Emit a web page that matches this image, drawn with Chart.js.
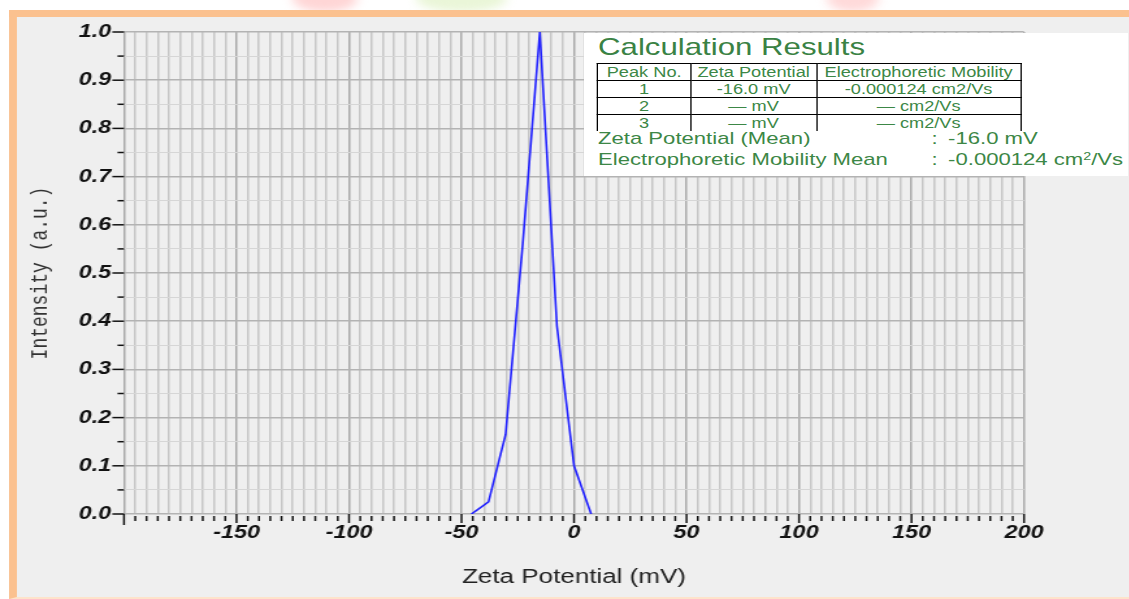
<!DOCTYPE html>
<html>
<head>
<meta charset="utf-8">
<title>Zeta Potential</title>
<script src="https://cdn.jsdelivr.net/npm/chart.js@4.4.0/dist/chart.umd.min.js"></script>
<style>
  html, body { margin: 0; padding: 0; }
  body { width: 1129px; height: 599px; overflow: hidden; background: #fff; position: relative;
         font-family: "Liberation Sans", Arial, sans-serif; }
  /* the source picture is stretched sideways, so the whole sheet is scaled on x */
  #sheet { position: absolute; left: 0; top: 0; width: 869px; height: 599px;
           transform: scaleX(1.3); transform-origin: 0 0; }
  .wm { position: absolute; top: -14px; height: 26px; border-radius: 50%; filter: blur(4px); }
  #frame { position: absolute; left: 7px; top: 10px; width: 862px; height: 589px; box-sizing: border-box;
           background: #efefef; border-left: 6px solid #fbc18f; border-top: 7px solid #fbc18f;
           border-bottom: 2px solid #fde3cb; }
  #chart { position: absolute; left: 0; top: 0; }
  #results { position: absolute; left: 448.5px; top: 33px; width: 418px; height: 143px;
             background: #fff; color: #3c8746; }
  #results .title { position: absolute; left: 11.5px; top: 2px; font-size: 24px; line-height: 24px;
                    white-space: nowrap; color: #3a8244; }
  #results table { position: absolute; left: 10.7px; top: 30px; border-collapse: collapse;
                   table-layout: fixed; font-size: 14px; }
  #results td { border: 1.5px solid #000; padding: 0; height: 16px; line-height: 16px;
                text-align: center; white-space: nowrap; overflow: hidden; }
  #results tr.last td { border-bottom: none; height: 14px; line-height: 16px; vertical-align: top; }
  #results .row { position: absolute; left: 11.5px; font-size: 17px; line-height: 20px; white-space: nowrap; }
  #results .colon { position: absolute; left: 268px; font-size: 17px; line-height: 20px; }
  #results .val { position: absolute; left: 280.8px; font-size: 17px; line-height: 20px; white-space: nowrap; }
  sup.s { font-size: 11px; vertical-align: 5px; line-height: 0; }
</style>
</head>
<body>
<div id="sheet">
  <div class="wm" style="left:225px;width:50px;background:#ffd6d6;"></div>
  <div class="wm" style="left:320px;width:70px;background:#eaf6d8;"></div>
  <div class="wm" style="left:636px;width:40px;background:#ffdada;"></div>
  <div id="frame"></div>
  <canvas id="chart" width="869" height="599"></canvas>
  <div id="results">
    <div class="title">Calculation Results</div>
    <table>
      <colgroup><col style="width:71.6px"><col style="width:96.9px"><col style="width:156.9px"></colgroup>
      <tr><td>Peak No.</td><td>Zeta Potential</td><td>Electrophoretic Mobility</td></tr>
      <tr><td>1</td><td>-16.0 mV</td><td>-0.000124 cm2/Vs</td></tr>
      <tr><td>2</td><td>— mV</td><td>— cm2/Vs</td></tr>
      <tr class="last"><td>3</td><td>— mV</td><td>— cm2/Vs</td></tr>
    </table>
    <div class="row" style="top:96px">Zeta Potential (Mean)</div>
    <div class="colon" style="top:96px">:</div>
    <div class="val" style="top:96px">-16.0 mV</div>
    <div class="row" style="top:117px">Electrophoretic Mobility Mean</div>
    <div class="colon" style="top:117px">:</div>
    <div class="val" style="top:117px">-0.000124 cm<sup class="s">2</sup>/Vs</div>
  </div>
</div>
<script>
// measured curve (mV, a.u.)
const zetaMv = [-45.6, -38.0, -30.4, -22.8, -15.2, -7.6, 0.0, 7.6];
const intensity = [0.0, 0.025, 0.165, 0.56, 1.0, 0.39, 0.10, 0.0];

const xMin = -200, xMax = 200, xStep = 5;
const xTickLabels = [-150, -100, -50, 0, 50, 100, 150, 200];
const yMin = 0, yMax = 1, yStep = 0.05;
const yTickLabels = ['0.0', '0.1', '0.2', '0.3', '0.4', '0.5', '0.6', '0.7', '0.8', '0.9', '1.0'];

const points = zetaMv.map((v, i) => ({ x: v, y: intensity[i] }));

const tickFont = { family: 'Liberation Sans', size: 18, weight: 'bold', style: 'italic' };

function stepTicks(min, max, step) {
  let out = [];
  let n = Math.round((max - min) / step);
  for (let i = 0; i <= n; i++) out.push({ value: +(min + i * step).toFixed(4) });
  return out;
}

// small / long tick marks outside the plot
const tickMarks = {
  id: 'tickMarks',
  afterDraw(chart) {
    const c = chart.ctx, xs = chart.scales.x, ys = chart.scales.y;
    const bottom = chart.chartArea.bottom, left = chart.chartArea.left;
    c.save();
    c.strokeStyle = '#111';
    c.lineWidth = 1.5;
    xs.ticks.forEach(t => {
      const px = xs.getPixelForValue(t.value);
      const major = Math.round(t.value) % 50 === 0;
      c.beginPath();
      c.moveTo(px, major ? bottom : bottom + 2);
      c.lineTo(px, major ? bottom + (t.value === xMin ? 11 : 9) : bottom + 7);
      c.stroke();
    });
    ys.ticks.forEach(t => {
      const py = ys.getPixelForValue(t.value);
      const major = Math.round(t.value * 100) % 10 === 0;
      c.beginPath();
      c.moveTo(major ? left - 9 : left - 5, py);
      c.lineTo(left, py);
      c.stroke();
    });
    c.restore();
  }
};

new Chart(document.getElementById('chart'), {
  type: 'line',
  data: {
    datasets: [{
      data: points,
      borderColor: '#1f1fff',
      borderWidth: 1.6,
      pointRadius: 0,
      tension: 0,
      fill: false
    }]
  },
  options: {
    responsive: false,
    animation: false,
    events: [],
    layout: { padding: { left: 0, right: 81.3, top: 32, bottom: 0 } },
    plugins: { legend: { display: false }, tooltip: { enabled: false } },
    scales: {
      x: {
        type: 'linear',
        min: xMin,
        max: xMax,
        afterBuildTicks: s => { s.ticks = stepTicks(xMin, xMax, xStep); },
        afterFit: s => { s.height = 85; },
        border: { display: false },
        grid: {
          drawTicks: false,
          color: c => Math.round(c.tick.value) % 50 === 0 ? '#a9a9a9' : '#c6c6c6',
          lineWidth: 1.5
        },
        ticks: {
          autoSkip: false,
          maxRotation: 0,
          minRotation: 0,
          padding: 8,
          color: '#111',
          font: tickFont,
          callback: v => xTickLabels.includes(Math.round(v)) ? String(Math.round(v)) : ''
        },
        title: {
          display: true,
          text: 'Zeta Potential (mV)',
          color: '#222',
          font: { family: 'Liberation Sans', size: 20 },
          padding: { top: 0, bottom: 10 }
        }
      },
      y: {
        min: yMin,
        max: yMax,
        afterBuildTicks: s => { s.ticks = stepTicks(yMin, yMax, yStep); },
        afterFit: s => { s.width = 95.4; },
        border: { display: false },
        grid: {
          drawTicks: false,
          color: c => Math.round(c.tick.value * 100) % 10 === 0 ? '#b3b3b3' : '#d6d6d6',
          lineWidth: c => Math.round(c.tick.value * 100) % 10 === 0 ? 1.6 : 1
        },
        ticks: {
          autoSkip: false,
          padding: 10,
          color: '#111',
          font: tickFont,
          callback: v => {
            const k = Math.round(v * 100);
            return k % 10 === 0 ? yTickLabels[k / 10] : '';
          }
        },
        title: {
          display: true,
          text: 'Intensity (a.u.)',
          color: '#333',
          font: { family: 'Liberation Mono', size: 18 },
          padding: { top: 20, bottom: 0 }
        }
      }
    }
  },
  plugins: [tickMarks]
});
</script>
</body>
</html>
